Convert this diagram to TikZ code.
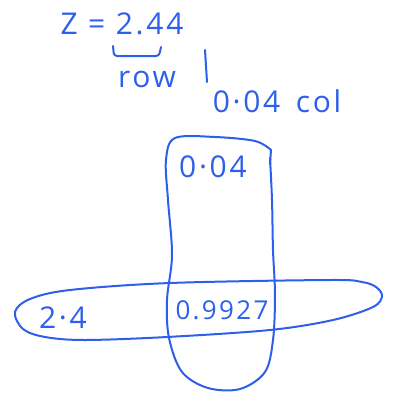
\documentclass[tikz,border=0pt]{standalone}
\usepackage{fontspec}
\setmainfont{Open Sans}
\newfontfamily\penfont[LetterSpace=9]{Open Sans}
\usepackage{xcolor}
\usepackage{tikz}
\usetikzlibrary{positioning,calc}
\definecolor{penblue}{RGB}{45,95,235}
\tikzset{
  ink/.style={draw=penblue,line width=2pt,line cap=round,line join=round},
  hand/.style={text=penblue,inner sep=0pt,font=\penfont\fontsize{30}{32}\selectfont}
}

\begin{document}
\begin{tikzpicture}[x=1pt,y=-1pt]
\useasboundingbox (0,0) rectangle (393,394);
% Top line: z value split into row and column
\node[hand] (zeq) at (122,24) {Z = 2.44};
\draw[ink,rounded corners=3pt] (113,46) -- (114,56) -- (159,56) -- (161,47);
\node[hand] (rowlbl) at (147,79) {row};
\draw[ink] (205,50) -- (207,82);
\node[hand] (collbl) at (277,101) {0·04 \,col};

% Column loop (vertical)
\coordinate (ctop) at (271,150);
\draw[ink] (ctop) -- (270,164);
\draw[ink] plot[smooth,tension=0.55] coordinates {(270,158) (272,200) (273,250) (275,295) (273,340) (265,372) (240,389) (208,388) (182,372) (169,338) (167,300) (172,255) (168,200) (166,160) (175,138) (215,137) (255,141) (ctop)};
\node[hand] (colval) at (213,167) {0·04};

% Row loop (horizontal)
\draw[ink] plot[smooth cycle,tension=0.55] coordinates {(15,312) (30,299) (70,290) (170,283) (330,280) (362,282) (376,287) (382,296) (373,307) (333,320) (270,330) (167,337) (85,340) (45,337) (23,329)};
\node[hand] (rowval) at (63,318) {2·4};
\node[hand,font=\penfont\fontsize{26}{28}\selectfont] (cellval) at (222,310) {0.9927};
\end{tikzpicture}
\end{document}
